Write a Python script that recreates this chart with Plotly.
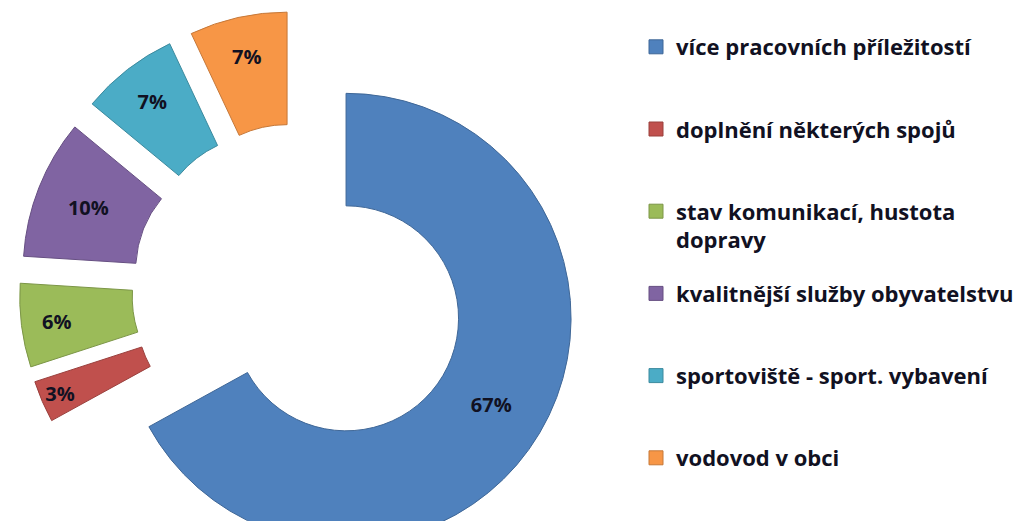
import plotly.graph_objects as go

labels = [
    "více pracovních příležitostí",
    "doplnění některých spojů",
    "stav komunikací, hustota<br>dopravy",
    "kvalitnější služby obyvatelstvu",
    "sportoviště - sport. vybavení",
    "vodovod v obci",
]
values = [67, 3, 6, 10, 7, 7]
colors = ["#4F81BD", "#C0504D", "#9BBB59", "#8064A2", "#4BACC6", "#F79646"]
edges = ["#3F6797", "#9A403D", "#7C9647", "#664F82", "#3C8A9E", "#C67838"]

W, H = 1024, 600
R = 225          # outer radius in px
pull = 0.243
cx, cy = 291, 282.5
half = R * (1 + pull)

fig = go.Figure()
fig.add_trace(go.Pie(
    labels=labels,
    values=values,
    hole=0.5,
    sort=False,
    direction="clockwise",
    rotation=0,
    pull=[pull] * len(values),
    marker=dict(colors=colors, line=dict(color=edges, width=1)),
    texttemplate="%{percent:.0%}",
    textposition="inside",
    insidetextorientation="horizontal",
    textfont=dict(family="Open Sans", size=20, color="#111122", weight="bold"),
    domain=dict(x=[(cx - half) / W, (cx + half) / W],
                y=[1 - (cy + half) / H, 1 - (cy - half) / H]),
    showlegend=False,
))

# legend entries: one group each so the rows can be spaced like the original
for i, (lab, col, edge) in enumerate(zip(labels, colors, edges)):
    name = lab if "<br>" in lab else lab + "<br> "
    fig.add_trace(go.Scatter(
        x=[None], y=[None], mode="markers", name=name,
        legendgroup=f"g{i}",
        marker=dict(symbol="square", size=14, color=col, line=dict(color=edge, width=1)),
        hoverinfo="skip",
    ))

fig.update_xaxes(visible=False)
fig.update_yaxes(visible=False)

fig.update_layout(
    width=W,
    height=H,
    margin=dict(l=0, r=0, t=0, b=0),
    paper_bgcolor="white",
    plot_bgcolor="white",
    uniformtext=dict(minsize=20, mode="show"),
    legend=dict(
        x=628 / W,
        y=1 - 18 / H,
        xanchor="left",
        yanchor="top",
        valign="top",
        traceorder="grouped",
        tracegroupgap=22,
        font=dict(family="Open Sans", size=22, color="#111122", weight="bold"),
        itemclick=False,
    ),
)

fig.write_html("out.html")
